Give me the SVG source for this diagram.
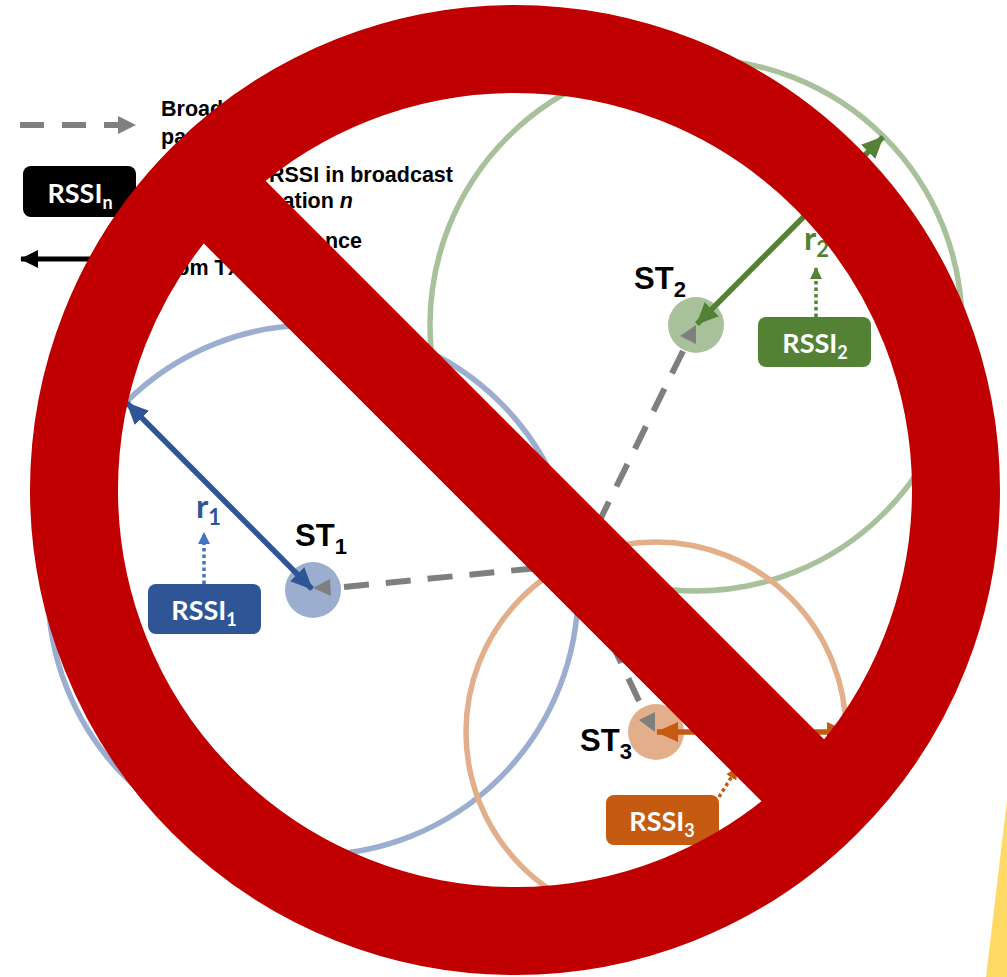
<svg xmlns="http://www.w3.org/2000/svg" width="1007" height="977" viewBox="0 0 1007 977">
<style>
.t{font-family:"Liberation Sans",Arial,sans-serif;font-weight:700;fill:#000}
.lg{font-size:21.5px}
.end{text-anchor:end}
.st{font-size:31px}
.st tspan{font-size:22px}
.pill{font-family:Lato,"Open Sans",sans-serif;font-weight:700;font-size:27px;fill:#fff;text-anchor:middle}
.pill tspan{font-size:18px}
.r{font-family:Lato,"Open Sans",sans-serif;font-weight:700;font-size:33px}
.r tspan{font-size:22px}
.ring{fill:none;stroke-width:5.5}
.dash{fill:none;stroke:#7f7f7f;stroke-width:6;stroke-dasharray:25 17}
.solid{stroke-width:5.5;fill:none}
.dot{stroke-width:3.5;stroke-dasharray:3.500 3;fill:none}
</style>
<defs>
<marker id="mg" markerUnits="userSpaceOnUse" markerWidth="20" markerHeight="20" refX="17" refY="9" orient="auto"><path d="M0 0L18 9L0 18Z" fill="#7f7f7f"/></marker>
<marker id="mk" markerUnits="userSpaceOnUse" markerWidth="20" markerHeight="20" refX="17" refY="9" orient="auto-start-reverse"><path d="M0 0L18 9L0 18Z" fill="#000"/></marker>
<marker id="mb" markerUnits="userSpaceOnUse" markerWidth="24" markerHeight="22" refX="21" refY="10" orient="auto-start-reverse"><path d="M0 0L22 10L0 20Z" fill="#2f5597"/></marker>
<marker id="mgr" markerUnits="userSpaceOnUse" markerWidth="24" markerHeight="22" refX="21" refY="10" orient="auto-start-reverse"><path d="M0 0L22 10L0 20Z" fill="#548235"/></marker>
<marker id="mo" markerUnits="userSpaceOnUse" markerWidth="24" markerHeight="22" refX="21" refY="10" orient="auto-start-reverse"><path d="M0 0L22 10L0 20Z" fill="#c55a11"/></marker>
<marker id="db" markerUnits="userSpaceOnUse" markerWidth="14" markerHeight="14" refX="11" refY="6" orient="auto"><path d="M0 0L12 6L0 12Z" fill="#4472c4"/></marker>
<marker id="dg" markerUnits="userSpaceOnUse" markerWidth="14" markerHeight="14" refX="11" refY="6" orient="auto"><path d="M0 0L12 6L0 12Z" fill="#548235"/></marker>
<marker id="do" markerUnits="userSpaceOnUse" markerWidth="14" markerHeight="14" refX="11" refY="6" orient="auto"><path d="M0 0L12 6L0 12Z" fill="#c55a11"/></marker>
</defs>
<rect width="1007" height="977" fill="#fff"/>
<polygon id="yellow" points="1007,800 986,977 1007,977" fill="#ffd966"/>
<g id="rings">
<circle class="ring" cx="696" cy="325" r="266" stroke="#a9c19a"/>
<circle class="ring" cx="313" cy="590" r="265" stroke="#9baecf"/>
<circle class="ring" cx="656" cy="732" r="190" stroke="#e3ae8a"/>
</g>
<g id="legend">
<path d="M20 125H135" class="dash" style="stroke-dasharray:24 18" marker-end="url(#mg)"/>
<text class="t lg" x="161" y="116">Broad</text>
<text class="t lg" x="161" y="144">pa</text>
<rect x="23" y="166" width="113" height="51" rx="8" fill="#000"/>
<text class="pill" x="80" y="203">RSSI<tspan dy="6">n</tspan></text>
<text class="t lg end" x="453" y="182">RSSI in broadcast</text>
<text class="t lg end" x="353" y="208">ation <tspan font-style="italic">n</tspan></text>
<path d="M21 259H160" stroke="#000" stroke-width="5" marker-start="url(#mk)"/>
<text class="t lg end" x="362" y="248">nce</text>
<text class="t lg end" x="242" y="275">om TX</text>
</g>
<g id="st1">
<circle cx="313" cy="590" r="28" fill="#9baecf"/>
<text class="t st" x="295" y="546">ST<tspan dy="8">1</tspan></text>
</g>
<g id="st2">
<circle cx="696" cy="325" r="28" fill="#a9c19a"/>
<text class="t st" x="634" y="289">ST<tspan dy="8">2</tspan></text>
</g>
<g id="st3">
<circle cx="656" cy="732" r="28" fill="#e3ae8a"/>
<text class="t st" x="580" y="751">ST<tspan dy="8">3</tspan></text>
</g>
<g id="connectors">
<path class="dash" d="M344 587L640 558"/>
<path class="dash" d="M683 351L595 530"/>
<path class="dash" d="M639 701L600 618"/>
<polygon points="313,588 330,579 331,596" fill="#7f7f7f"/>
<polygon points="680,336 696,325 696,344" fill="#7f7f7f"/>
<polygon points="639,720 655,712 655,732" fill="#7f7f7f"/>
<path class="solid" d="M127 403L312 589" stroke="#2f5597" marker-start="url(#mb)" marker-end="url(#mb)"/>
<path class="solid" d="M883 137L697 324" stroke="#548235" marker-start="url(#mgr)" marker-end="url(#mgr)"/>
<path class="solid" d="M657 732H848" stroke="#c55a11" marker-start="url(#mo)" marker-end="url(#mo)"/>
<path class="dot" d="M204 584V533" stroke="#4472c4" marker-end="url(#db)"/>
<path class="dot" d="M816 317V268" stroke="#548235" marker-end="url(#dg)"/>
<path class="dot" d="M719 797L737 768" stroke="#c55a11" marker-end="url(#do)"/>
</g>
<g id="rssi1">
<rect x="148" y="584" width="113" height="50" rx="8" fill="#2f5597"/>
<text class="pill" x="204" y="620">RSSI<tspan dy="6">1</tspan></text>
</g>
<g id="rssi2">
<rect x="758" y="317" width="113" height="50" rx="8" fill="#548235"/>
<text class="pill" x="815" y="353">RSSI<tspan dy="6">2</tspan></text>
</g>
<g id="rssi3">
<rect x="606" y="795" width="113" height="50" rx="8" fill="#c55a11"/>
<text class="pill" x="662" y="831">RSSI<tspan dy="6">3</tspan></text>
</g>
<text class="r" x="196" y="518" style="fill:#2f5597">r<tspan dy="7">1</tspan></text>
<text class="r" x="804" y="250" style="fill:#548235">r<tspan dy="7">2</tspan></text>
<g id="prohibition">
<circle cx="515" cy="490" r="441" fill="none" stroke="#c00000" stroke-width="88"/>
<path d="M203 180.500L827 804.500" stroke="#c00000" stroke-width="88" fill="none"/>
</g>
</svg>
